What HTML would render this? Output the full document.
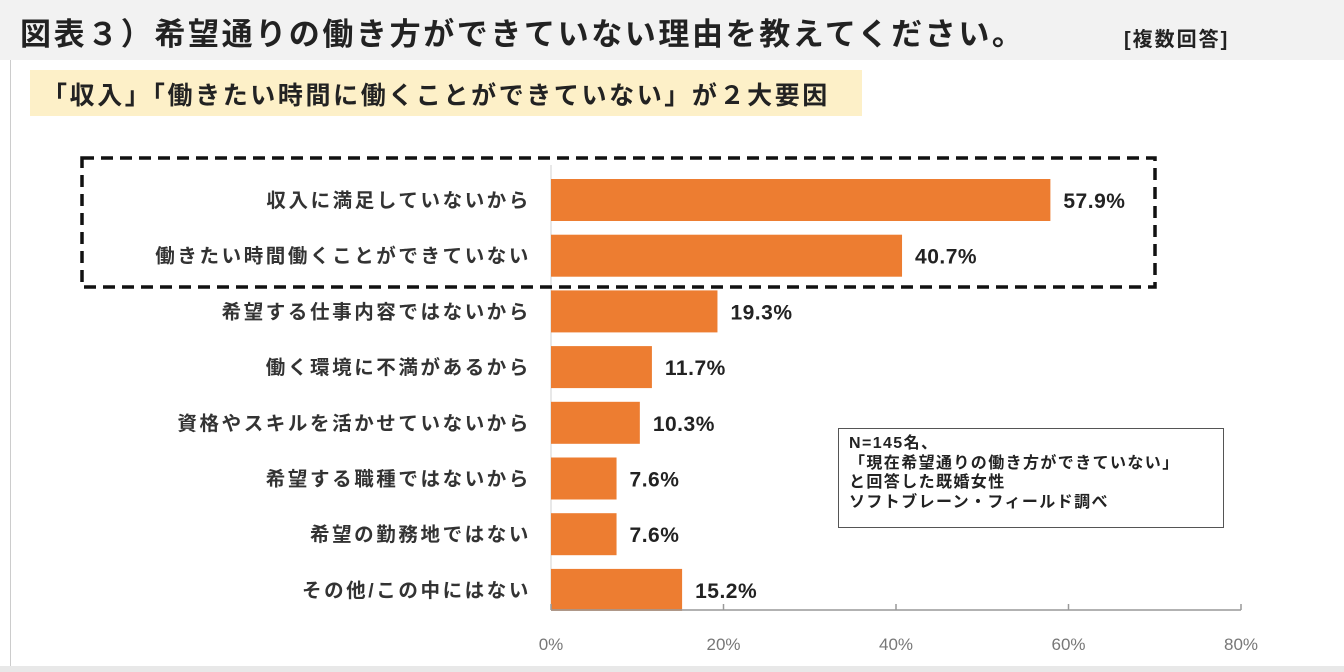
<!DOCTYPE html>
<html><head><meta charset="utf-8"><style>
body{margin:0;width:1344px;height:672px;background:#fff;overflow:hidden;font-family:"Liberation Sans","Noto Sans CJK JP",sans-serif;position:relative}
#title{position:absolute;left:0;top:0;width:1344px;height:60px;background:#f2f2f2}
.t{position:absolute;white-space:nowrap;color:#222}
</style></head><body>
<div id="title"></div>
<div class="t" style="left:20px;top:9px;font-size:31px;font-weight:bold;letter-spacing:2.6px">図表３）希望通りの働き方ができていない理由を教えてください。</div>
<div class="t" style="left:1124px;top:23px;font-size:20px;font-weight:bold;letter-spacing:2px">[複数回答]</div>
<div style="position:absolute;left:10px;top:60px;width:1px;height:612px;background:#ccc"></div>
<div style="position:absolute;left:0;top:666px;width:1344px;height:6px;background:#e8e8e8"></div>
<div style="position:absolute;left:30px;top:70px;width:832px;height:46px;background:#fdf0c8"></div>
<div class="t" style="left:42px;top:76px;font-size:25px;font-weight:bold;letter-spacing:2.6px">「収入」「働きたい時間に働くことができていない」が２大要因</div>
<svg id="chart" width="1344" height="672" style="position:absolute;left:0;top:0"></svg>
<div style="position:absolute;left:838px;top:428px;width:386px;height:100px;border:1px solid #555;box-sizing:border-box;background:#fff;font-size:16px;font-weight:bold;line-height:19.5px;padding:5px 0 0 10px;color:#222;letter-spacing:1.4px">N=145名、<br>「現在希望通りの働き方ができていない」<br>と回答した既婚女性<br>ソフトブレーン・フィールド調べ</div>
<script>
const categories=["収入に満足していないから","働きたい時間働くことができていない","希望する仕事内容ではないから","働く環境に不満があるから","資格やスキルを活かせていないから","希望する職種ではないから","希望の勤務地ではない","その他/この中にはない"];
const values=[57.9,40.7,19.3,11.7,10.3,7.6,7.6,15.2];
const ticks=[0,20,40,60,80];
const tickLabels=["0%","20%","40%","60%","80%"];
const svg=document.getElementById('chart');const NS='http://www.w3.org/2000/svg';
const x=v=>551+v*(1241-551)/80;
const rowH=55.7,top0=172;
const y=i=>top0+i*rowH;
function mk(t,a){const e=document.createElementNS(NS,t);for(const k in a)e.setAttribute(k,a[k]);svg.appendChild(e);return e;}
const ax=mk('line',{x1:551,y1:165,x2:551,y2:610,stroke:'#d0d0d0','stroke-width':1});


categories.forEach((c,i)=>{
 const r=mk('rect',{x:x(0),y:y(i)+7,width:x(values[i])-x(0),height:42,fill:'#ed7d31'});
 
 
 const l=mk('text',{x:531,y:y(i)+35,'text-anchor':'end','font-size':19.5,'font-weight':'bold',fill:'#333','letter-spacing':2.6});
 l.textContent=c;
 
 
 const v=mk('text',{x:x(values[i])+13,y:y(i)+36,'font-size':21,'font-weight':'bold',fill:'#222','letter-spacing':0.5});
 v.textContent=values[i].toFixed(1)+'%';
 
 
});
const xl=mk('line',{x1:551,y1:610,x2:1241,y2:610,stroke:'#999','stroke-width':1.5});


ticks.forEach((t,i)=>{
 const tk=mk('line',{x1:x(t),y1:604,x2:x(t),y2:610,stroke:'#999','stroke-width':1.5});
 
 
 const tl=mk('text',{x:x(t),y:650,'text-anchor':'middle','font-size':17,fill:'#777'});
 tl.textContent=tickLabels[i];
 
 
});
const db=mk('rect',{x:82,y:158,width:1073,height:129,fill:'none',stroke:'#111','stroke-width':3.5,'stroke-dasharray':'12,7'});


</script>
</body></html>
